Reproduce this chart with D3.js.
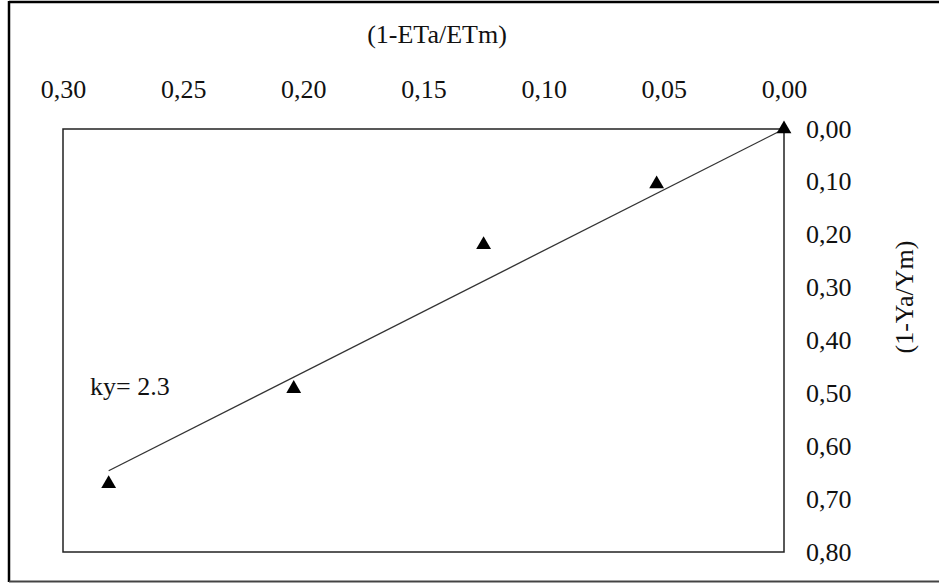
<!DOCTYPE html>
<html>
<head>
<meta charset="utf-8">
<script src="https://cdn.jsdelivr.net/npm/d3@7"></script>
<style>
  body { margin: 0; background: #fff; }
</style>
</head>
<body>
<script>
// relative ET deficit vs relative yield decrease
const etDeficit = [0.281, 0.204, 0.125, 0.053, 0.000]
const yieldDecrease = [0.671, 0.491, 0.219, 0.104, 0.000]
const xTicks = [0.30, 0.25, 0.20, 0.15, 0.10, 0.05, 0.00]
const yTicks = [0.00, 0.10, 0.20, 0.30, 0.40, 0.50, 0.60, 0.70, 0.80]
const ky = 2.3
const fitRange = [0.281, 0.000]

const W = 939, H = 585
const plot = { left: 63, right: 784, top: 129, bottom: 552 }
const FONT = 'Liberation Serif, serif'
const fmt = v => d3.format('.2f')(v).replace('.', ',')

const svg = d3.select('body').append('svg').attr('width', W).attr('height', H)

// outer frame (right edge cut off)
svg.append('line').attr('x1', 9).attr('x2', W).attr('y1', 2).attr('y2', 2)
  .attr('stroke', '#000').attr('stroke-width', 2.5)
svg.append('line').attr('x1', 9).attr('x2', 9).attr('y1', 1).attr('y2', 582)
  .attr('stroke', '#000').attr('stroke-width', 2.5)
svg.append('line').attr('x1', 9).attr('x2', W).attr('y1', 581.5).attr('y2', 581.5)
  .attr('stroke', '#444').attr('stroke-width', 2)

const x = d3.scaleLinear().domain([0.30, 0.00]).range([plot.left, plot.right])
const y = d3.scaleLinear().domain([0.00, 0.80]).range([plot.top, plot.bottom])

// plot area box
svg.append('rect')
  .attr('x', plot.left).attr('y', plot.top)
  .attr('width', plot.right - plot.left).attr('height', plot.bottom - plot.top)
  .attr('fill', 'none').attr('stroke', '#222').attr('stroke-width', 1.5)

// top axis labels (no tick lines)
const xAxis = d3.axisTop(x).tickValues(xTicks).tickFormat(fmt).tickSize(0).tickPadding(0)
const gx = svg.append('g').attr('transform', 'translate(0,98)').call(xAxis)
gx.select('.domain').remove()
gx.selectAll('text').attr('dy', 0)

// right axis labels
const yAxis = d3.axisRight(y).tickValues(yTicks).tickFormat(fmt).tickSize(0).tickPadding(0)
const gy = svg.append('g').attr('transform', 'translate(806,0)').call(yAxis)
gy.select('.domain').remove()
gy.selectAll('text').attr('dy', '0.31em')

// axis titles
svg.append('text').attr('x', 437).attr('y', 43).attr('text-anchor', 'middle')
  .text('(1-ETa/ETm)')
svg.append('text').attr('transform', 'translate(913,297) rotate(-90)')
  .attr('text-anchor', 'middle').text('(1-Ya/Ym)')

// fitted line y = ky * x
svg.append('line')
  .attr('x1', x(fitRange[0])).attr('y1', y(ky * fitRange[0]))
  .attr('x2', x(fitRange[1])).attr('y2', y(ky * fitRange[1]))
  .attr('stroke', '#333').attr('stroke-width', 1.3)

// points
const tri = d3.symbol().type(d3.symbolTriangle).size(95)
svg.selectAll('path.pt').data(etDeficit).join('path')
  .attr('class', 'pt')
  .attr('d', tri)
  .attr('transform', (d, i) => `translate(${x(d)},${y(yieldDecrease[i])})`)
  .attr('fill', '#000')

svg.append('text').attr('x', 90).attr('y', 395).text('ky= 2.3')

// one font for every label
svg.selectAll('text')
  .style('font-family', FONT).style('font-size', '26px').style('fill', '#111')
</script>
</body>
</html>
